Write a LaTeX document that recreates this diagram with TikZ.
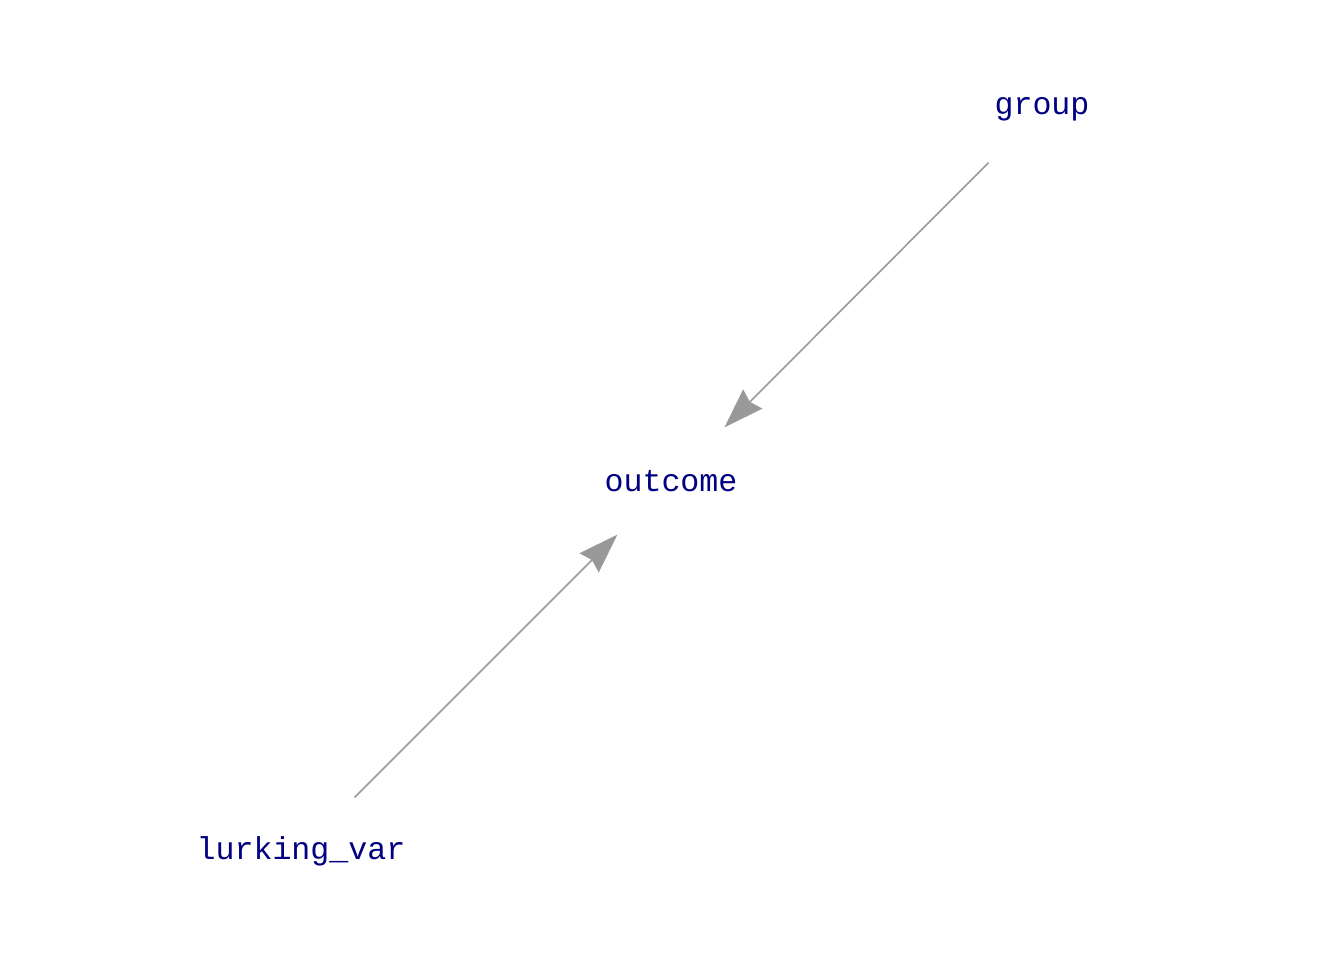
\documentclass[tikz,border=0pt]{standalone}
\usepackage{fontspec}
\setmonofont{Liberation Mono}
\usetikzlibrary{arrows.meta, positioning}
\definecolor{varnavy}{RGB}{0,0,128}
\definecolor{edgegray}{RGB}{153,153,153}

\begin{document}
\begin{tikzpicture}[
    var/.style={circle, minimum size=15mm, inner sep=0pt,
                font=\ttfamily\fontsize{9}{11}\selectfont, text=varnavy},
    flow/.style={-{Stealth[length=4mm, width=2.7mm, inset=0.4mm]},
                 line width=0.45pt, draw=edgegray, fill=edgegray},
]
\useasboundingbox (0,0) rectangle (13.44,9.6);
\node[var] (grp) at (10.42,8.51) {\makebox[0pt]{group}};
\node[var] (out) at (6.71,4.79) {\makebox[0pt]{outcome}};
\node[var] (lrk) at (3.01,1.09) {\makebox[0pt]{lurking\_var}};
\draw[flow] (grp) -- (out);
\draw[flow] (lrk) -- (out);
\end{tikzpicture}
\end{document}
